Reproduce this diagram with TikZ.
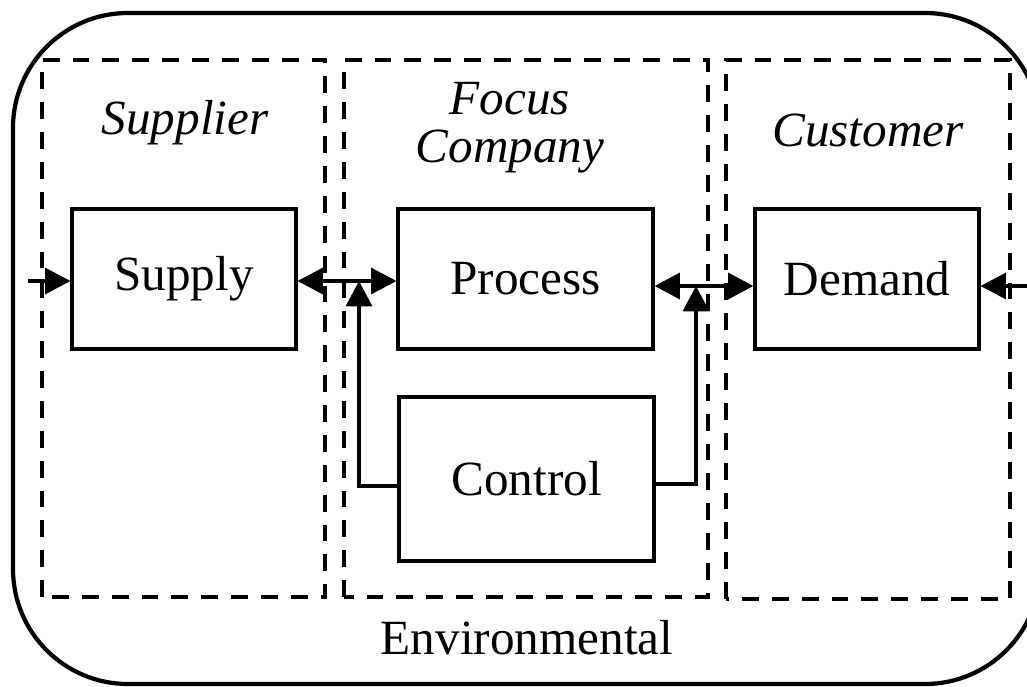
\documentclass[tikz,border=0pt]{standalone}
\usepackage{fontspec}
\setmainfont{Liberation Serif}
\usetikzlibrary{arrows.meta}

\begin{document}
\begin{tikzpicture}[
  env/.style={line width=1.2pt, rounded corners=1.15cm},
  zone/.style={line width=1.1pt, dash pattern=on 4.8pt off 3.7pt},
  blk/.style={draw, line width=0.9pt, inner sep=0pt, font=\fontsize{14}{16}\selectfont},
  lbl/.style={font=\fontsize{14}{13.6}\selectfont\itshape, align=center},
  arr/.style={line width=0.9pt, -{Triangle[length=7.2pt,width=7.4pt]}},
  darr/.style={line width=0.9pt, {Triangle[length=7.2pt,width=7.4pt]}-{Triangle[length=7.2pt,width=7.4pt]}}]
\useasboundingbox (0,0) rectangle (10.27,6.86);
\clip (0,0) rectangle (10.27,6.86);
% environment (outer frame)
\draw[env] (0.13,0.02) rectangle (10.40,6.73);
\node[font=\fontsize{14}{16}\selectfont] (envlbl) at (5.27,0.48) {Environmental};
% zones (dashed)
\draw[zone] (0.42,0.89) rectangle (3.25,6.26);
\draw[zone] (3.44,0.89) rectangle (7.08,6.26);
\draw[zone] (7.26,0.87) rectangle (10.10,6.26);
\node[lbl] (suplbl) at (1.85,5.63) {Supplier};
\node[lbl] (foclbl) at (5.10,5.58) {Focus\\Company};
\node[lbl] (cuslbl) at (8.68,5.56) {Customer};
% blocks
\node[blk, minimum width=2.24cm, minimum height=1.40cm] (supply) at (1.84,4.07) {Supply};
\node[blk, minimum width=2.55cm, minimum height=1.40cm] (process) at (5.255,4.07) {Process};
\node[blk, minimum width=2.24cm, minimum height=1.40cm] (demand) at (8.67,4.07) {Demand};
\node[blk, minimum width=2.55cm, minimum height=1.64cm] (control) at (5.265,2.07) {Control};
% flows
\coordinate (inl) at (0.28,4.05);
\coordinate (jl) at (3.59,4.05);
\coordinate (jr) at (6.96,4.00);
\coordinate (inr) at (10.45,4.00);
\draw[arr] (inl) -- (supply.west |- inl);
\draw[darr] (supply.east |- jl) -- (process.west |- jl);
\draw[darr] (process.east |- jr) -- (demand.west |- jr);
\draw[arr] (inr) -- (demand.east |- inr);
% control feedback
\draw[arr] ([yshift=-0.07cm]control.west) -| (jl);
\draw[arr] ([yshift=-0.05cm]control.east) -| (jr);
\end{tikzpicture}
\end{document}
